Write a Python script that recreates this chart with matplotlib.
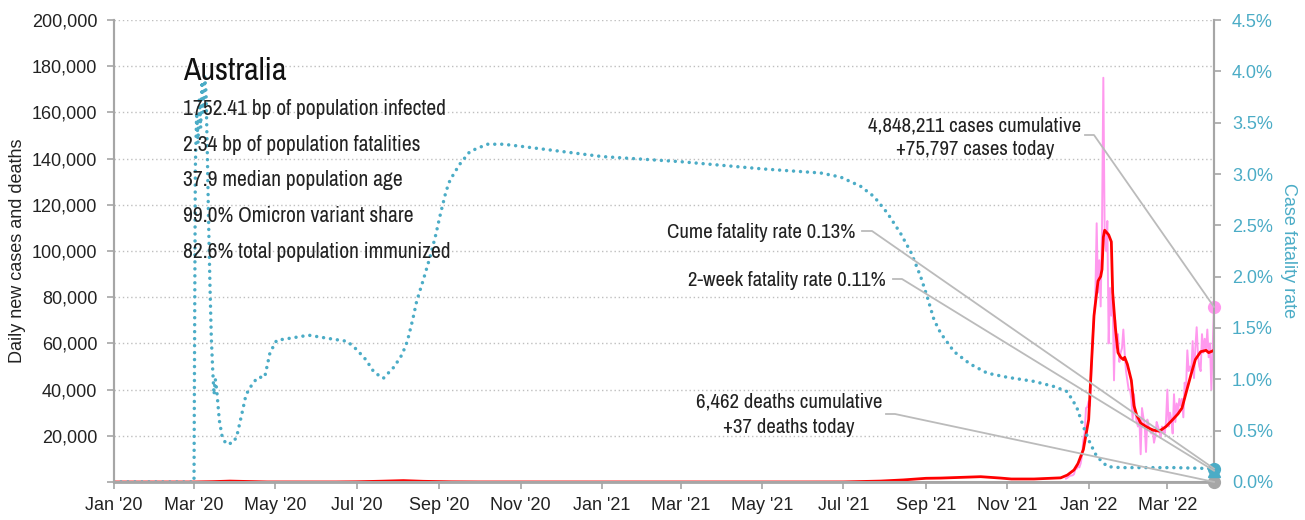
import numpy as np
import pandas as pd
import matplotlib
matplotlib.use('Agg')
import matplotlib.pyplot as plt
import matplotlib.dates as mdates
from matplotlib.ticker import FuncFormatter, MultipleLocator
from matplotlib.lines import Line2D

# colours
CYAN = '#4BACC6'
PINK = '#FF99EE'
RED = '#FF0000'
GREY = '#A6A6A6'
NARROW = ['Archivo Narrow', 'Liberation Sans Narrow', 'Liberation Sans', 'DejaVu Sans']
REGULAR = ['Liberation Sans', 'DejaVu Sans']

# case fatality rate (%)
cfr_dates = ['2020-01-01', '2020-03-01', '2020-03-02', '2020-03-03', '2020-03-04', '2020-03-05',
             '2020-03-06', '2020-03-07', '2020-03-08', '2020-03-09', '2020-03-10', '2020-03-11',
             '2020-03-12', '2020-03-13', '2020-03-14', '2020-03-15', '2020-03-16', '2020-03-17',
             '2020-03-18', '2020-03-19', '2020-03-20', '2020-03-22', '2020-03-25', '2020-03-30',
             '2020-04-02', '2020-04-06', '2020-04-09', '2020-04-14', '2020-04-18', '2020-04-23',
             '2020-04-27', '2020-05-02', '2020-05-12', '2020-05-26', '2020-06-09', '2020-06-24',
             '2020-07-01', '2020-07-08', '2020-07-14', '2020-07-21', '2020-07-29', '2020-08-04',
             '2020-08-08', '2020-08-12', '2020-08-15', '2020-08-20', '2020-08-25', '2020-08-29',
             '2020-09-02', '2020-09-06', '2020-09-09', '2020-09-16', '2020-09-24', '2020-10-07',
             '2020-10-19', '2020-11-01', '2021-01-01', '2021-03-01', '2021-05-01', '2021-06-14',
             '2021-06-29', '2021-07-14', '2021-07-24', '2021-08-03', '2021-08-13', '2021-08-21',
             '2021-08-28', '2021-09-02', '2021-09-07', '2021-09-12', '2021-09-22', '2021-10-04',
             '2021-10-17', '2021-11-01', '2021-11-21', '2021-12-06', '2021-12-16', '2021-12-23',
             '2021-12-28', '2022-01-02', '2022-01-07', '2022-01-15', '2022-01-25', '2022-03-06',
             '2022-04-05']
cfr_pct = [0, 0, 3.05, 3.6, 3.3, 3.75, 3.45, 3.9, 3.6, 3.95,
           3.8, 3.2, 2.5, 1.9, 1.4, 1.1,
           0.85, 1.0, 0.9, 0.75, 0.6,
           0.45, 0.37, 0.38, 0.44, 0.67, 0.85, 0.96, 1.02, 1.02, 1.26,
           1.38, 1.40, 1.43, 1.40, 1.37, 1.29, 1.19, 1.07, 1.01, 1.12,
           1.24, 1.37, 1.58, 1.76, 1.97, 2.19, 2.39,
           2.62, 2.83, 2.94, 3.09, 3.22, 3.29, 3.29, 3.27,
           3.17, 3.12, 3.05, 3.01, 2.97, 2.88, 2.78, 2.62, 2.42, 2.23, 2.0,
           1.80, 1.58, 1.45, 1.27, 1.15, 1.06, 1.02, 0.98, 0.93, 0.88, 0.73, 0.54,
           0.38, 0.25, 0.15, 0.14, 0.14, 0.13]

# 7-day average of new cases (thousands)
avg_dates = ['2020-01-01', '2020-03-01', '2020-03-15', '2020-03-28', '2020-04-08', '2020-04-25',
             '2020-06-15', '2020-07-01', '2020-07-20', '2020-08-05', '2020-08-20', '2020-09-10',
             '2020-10-01', '2021-06-01', '2021-07-01', '2021-07-29', '2021-08-15', '2021-09-01',
             '2021-09-12', '2021-10-12', '2021-10-27', '2021-11-04', '2021-11-21', '2021-12-11',
             '2021-12-16', '2021-12-21', '2021-12-24', '2021-12-28', '2022-01-01', '2022-01-03',
             '2022-01-05', '2022-01-08', '2022-01-10', '2022-01-11', '2022-01-12', '2022-01-13',
             '2022-01-16', '2022-01-18', '2022-01-19', '2022-01-21', '2022-01-23', '2022-01-25',
             '2022-01-27', '2022-01-28', '2022-01-30', '2022-02-02', '2022-02-04', '2022-02-06',
             '2022-02-09', '2022-02-13', '2022-02-18', '2022-02-23', '2022-02-28', '2022-03-05',
             '2022-03-09', '2022-03-12', '2022-03-15', '2022-03-19', '2022-03-22', '2022-03-26',
             '2022-03-30', '2022-04-01', '2022-04-05']
avg_cases = [0, 0.01, 0.15, 0.4, 0.25, 0.03, 0.02, 0.1, 0.35, 0.6, 0.3, 0.08, 0.02,
             0.01, 0.03, 0.4, 0.9, 1.6, 1.7, 2.3, 1.7, 1.3, 1.3,
             1.8, 3.0, 5.2, 8.0, 14,
             27, 50, 72, 87, 89, 92, 106, 109, 107, 104,
             82, 67, 56, 54, 53, 54, 51,
             44, 33, 29, 25.5, 24, 22.5, 22, 24,
             27, 29.5, 32, 38.5, 47, 53, 56.4, 57, 56, 57]

# daily new cases (thousands), 15 Dec 2021 - 5 Apr 2022
daily_start = '2021-12-15'
daily_cases = [1.5, 1.8, 2.3, 2.7, 2.8, 2.9, 3.4, 5.6, 5.7, 7.0, 6.3, 8.0, 11.4, 18.2, 21.0, 32.0, 32.5,
               35, 33, 48, 62, 72, 80, 112, 82, 96, 76, 110, 175, 107, 100, 113, 60, 84, 72, 80, 44,
               70, 58, 64, 52, 56, 58, 66, 56, 48, 44, 40,
               40, 36, 27, 38, 30, 26, 24, 28, 12, 32, 28, 25, 13, 27, 24, 22, 21, 23, 17, 20,
               26, 24, 22, 19, 24, 22, 21, 26,
               40, 24, 30, 27, 21, 38, 26, 34, 30, 36, 33, 36, 28, 43, 40, 57, 48, 50, 48, 61,
               45, 58, 67, 55, 50, 48, 64, 56, 62, 57, 66,
               54, 60, 40, 58, 75.797]

last_day = '2022-04-05'
cases_total = 4848211
cases_today = 75797
deaths_total = 6462
deaths_today = 37
cume_cfr = 0.13
twoweek_cfr = 0.11

info_lines = ['1752.41 bp of population infected',
              '2.34 bp of population fatalities',
              '37.9 median population age',
              '99.0% Omicron variant share',
              '82.6% total population immunized']

W, H = 1305, 520
fig = plt.figure(figsize=(W / 100, H / 100), dpi=100)
ax = fig.add_axes([114 / W, 38 / H, 1100 / W, 462 / H])
ax2 = ax.twinx()


def fpx(x, y):
    # pixel position (from top-left) to figure fraction
    return x / W, 1 - y / H


daily_dates = pd.date_range(daily_start, periods=len(daily_cases), freq='D')
ax.plot(daily_dates, np.array(daily_cases) * 1000, color=PINK, lw=1.4, zorder=2)
ax.plot(pd.to_datetime(avg_dates), np.array(avg_cases) * 1000, color=RED, lw=2, zorder=3)
ax2.plot(pd.to_datetime(cfr_dates), np.array(cfr_pct) / 100, color=CYAN, lw=2.5,
         linestyle=(0, (0.01, 2.0)), dash_capstyle='round')

end = pd.Timestamp(last_day)
ax.plot([end], [cases_today], 'o', color=PINK, ms=8.5, clip_on=False, zorder=6)
ax.plot([end], [deaths_today], 'o', color=GREY, ms=8.5, clip_on=False, zorder=6)
ax2.plot([end], [cume_cfr / 100], 'o', color=CYAN, ms=8.5, clip_on=False, zorder=6)
ax2.plot([end], [twoweek_cfr / 100], '^', color=CYAN, ms=8.5, clip_on=False, zorder=6)

# axes
ax.set_xlim(pd.Timestamp('2020-01-01'), end)
ax.set_ylim(0, 200000)
ax2.set_ylim(0, 0.045)
ax.set_xticks(pd.date_range('2020-01-01', '2022-03-01', freq='2MS'))
ax.xaxis.set_major_formatter(mdates.DateFormatter("%b '%y"))
ax.yaxis.set_major_locator(MultipleLocator(20000))
ax.yaxis.set_major_formatter(FuncFormatter(lambda v, p: '' if v == 0 else f'{int(v):,}'))
ax2.yaxis.set_major_locator(MultipleLocator(0.005))
ax2.yaxis.set_major_formatter(FuncFormatter(lambda v, p: f'{v * 100:.1f}%'))

ax.grid(axis='y', color='#BFBFBF', linestyle=(0, (1, 2)), lw=1)
for a in (ax, ax2):
    a.spines['top'].set_visible(False)
    for s in ('left', 'right', 'bottom'):
        a.spines[s].set_color(GREY)
        a.spines[s].set_linewidth(1.5)
ax.spines['bottom'].set_linewidth(2)

ax.tick_params(axis='y', length=5, color=GREY, width=1.2, pad=7, labelsize=13, labelcolor='#222222')
ax.tick_params(axis='x', length=5, color=GREY, width=1.2, pad=6, labelsize=13, labelcolor='#222222')
ax2.tick_params(axis='y', length=5, color=GREY, width=1.2, pad=8, labelsize=13, labelcolor=CYAN)
for lab in ax.get_xticklabels() + ax.get_yticklabels() + ax2.get_yticklabels():
    lab.set_fontfamily(REGULAR)

ax.set_ylabel('Daily new cases and deaths', fontsize=13, family=REGULAR, color='#222222', va='center')
ax.yaxis.set_label_coords(-0.0873, 0.5)
ax2.set_ylabel('Case fatality rate', fontsize=13, family=REGULAR, color=CYAN, rotation=270, va='center')
ax2.yaxis.set_label_coords(1.0673, 0.5)

# title block
fig.text(*fpx(183, 80), 'Australia', family=NARROW, fontsize=23, va='baseline', ha='left', color='#111111')
for i, line in enumerate(info_lines):
    fig.text(*fpx(183, 115 + i * 35.7), line, family=NARROW, fontsize=15.5, va='baseline', ha='left',
             color='#222222')

# annotations
tk = dict(family=NARROW, fontsize=15, va='baseline', color='#222222')
fig.text(*fpx(975, 132), f'{cases_total:,} cases cumulative', ha='center', **tk)
fig.text(*fpx(975, 155), f'+{cases_today:,} cases today', ha='center', **tk)
fig.text(*fpx(855, 238), f'Cume fatality rate {cume_cfr:.2f}%', ha='right', **tk)
fig.text(*fpx(886, 286), f'2-week fatality rate {twoweek_cfr:.2f}%', ha='right', **tk)
fig.text(*fpx(789, 408), f'{deaths_total:,} deaths cumulative', ha='center', **tk)
fig.text(*fpx(789, 433), f'+{deaths_today} deaths today', ha='center', **tk)

inv = fig.transFigure.inverted()
xe = mdates.date2num(end)
leaders = [((1085, 135), (1094, 135), ax.transData.transform((xe, cases_today))),
           ((862, 231), (872, 231), ax2.transData.transform((xe, cume_cfr / 100))),
           ((893, 279), (902, 279), ax2.transData.transform((xe, twoweek_cfr / 100))),
           ((886, 414), (895, 414), ax.transData.transform((xe, deaths_today)))]
for p0, p1, tip in leaders:
    a0 = fpx(*p0)
    a1 = fpx(*p1)
    t = inv.transform(tip)
    fig.add_artist(Line2D([a0[0], a1[0], t[0]], [a0[1], a1[1], t[1]], transform=fig.transFigure,
                          color='#BBBBBB', lw=1.3, zorder=1))

fig.savefig('out.png', dpi=100)
